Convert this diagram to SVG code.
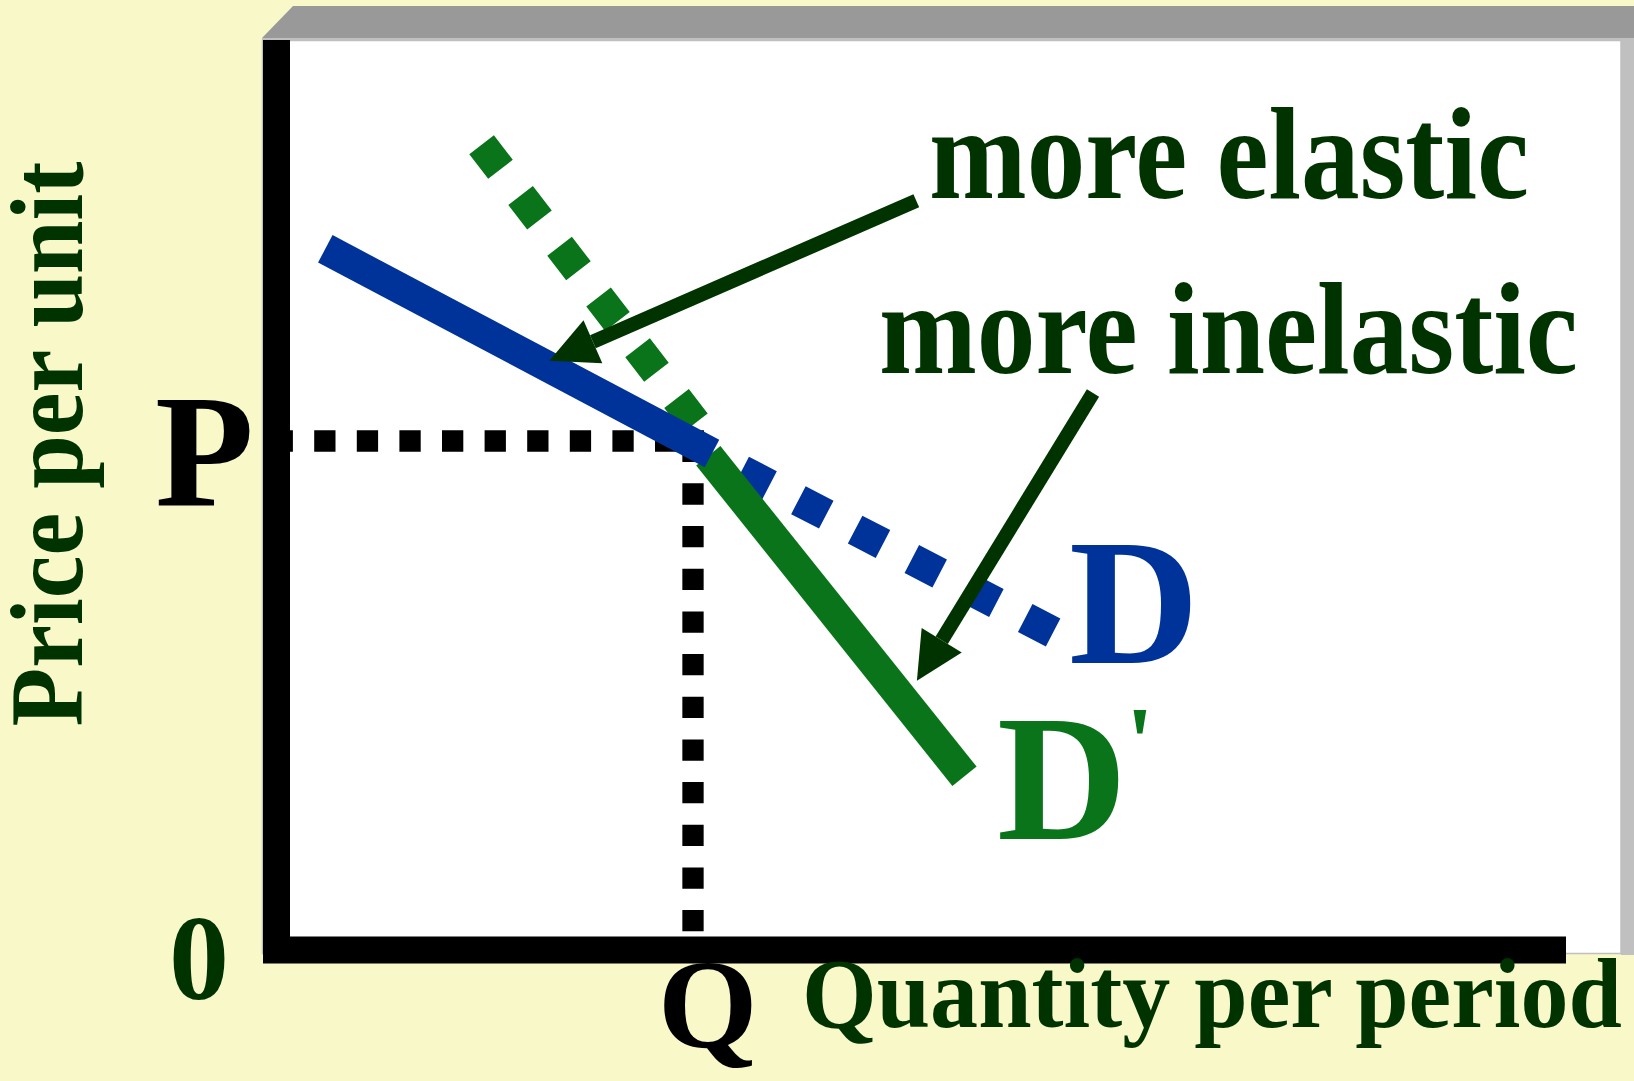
<svg xmlns="http://www.w3.org/2000/svg" width="1634" height="1081" viewBox="0 0 1634 1081">
<defs>
<style>
.lbl{font-family:"Liberation Serif","Times New Roman",serif;font-weight:bold;}
.dk{fill:#003300;}
.blk{fill:#000000;}
.blue{fill:#003399;}
.grn{fill:#0A741A;}
.conn{stroke:#003300;stroke-width:14.3;fill:none;}
</style>
<marker id="ah" markerUnits="userSpaceOnUse" viewBox="0 0 48 48" markerWidth="48" markerHeight="48" refX="0" refY="23.5" orient="auto" overflow="visible">
<path d="M0,0 L47.5,23.5 L0,47 Z" fill="#003300"/>
</marker>
</defs>
<rect x="0" y="0" width="1634" height="1081" fill="#F9F8C8"/>
<g id="frame">
<polygon points="293,6 1634,6 1634,38 262,38" fill="#999999"/>
<rect x="1621" y="38" width="13" height="917" fill="#C0C0C0"/>
<rect x="262" y="38" width="1359" height="3" fill="#C0C0C0"/>
<rect x="262.5" y="40.5" width="1358.5" height="913" fill="#FFFFFF" stroke="#BFBFBF" stroke-width="1.5"/>
</g>
<g id="guides">
<line x1="271.6" y1="441" x2="704" y2="441" stroke="#000" stroke-width="21.3" stroke-dasharray="21.3 21.3"/>
<line x1="693" y1="440.7" x2="693" y2="931.4" stroke="#000" stroke-width="21.3" stroke-dasharray="21.3 21.37"/>
</g>
<g id="axes">
<path d="M276.5,40 V950 H1566" fill="none" stroke="#000" stroke-width="27"/>
</g>
<g id="curves">
<line id="Dprime-dashed" x1="481.6" y1="144.7" x2="695.4" y2="423" stroke="#0A741A" stroke-width="31" stroke-dasharray="31 33"/>
<line id="D-dashed" x1="741.7" y1="470.7" x2="1053.2" y2="632.5" stroke="#003399" stroke-width="31.5" stroke-dasharray="31.4 32.5"/>
<line id="Dprime-solid" x1="708.3" y1="455.8" x2="964.5" y2="776.3" stroke="#0A741A" stroke-width="31"/>
<line id="D-solid" x1="325.3" y1="248.8" x2="712" y2="453.5" stroke="#003399" stroke-width="31"/>
</g>
<g id="connectors">
<line class="conn" x1="916.3" y1="200.8" x2="592.9" y2="341.7" marker-end="url(#ah)"/>
<line class="conn" x1="1093" y1="393" x2="941.7" y2="640.2" marker-end="url(#ah)"/>
</g>
<g id="label-more-elastic"><text class="lbl dk" x="929" y="198" font-size="131" textLength="600" lengthAdjust="spacingAndGlyphs">more elastic</text></g>
<g id="label-more-inelastic"><text class="lbl dk" x="879" y="372.5" font-size="131" textLength="699" lengthAdjust="spacingAndGlyphs">more inelastic</text></g>
<g id="label-D"><text class="lbl blue" x="1069" y="663" font-size="180">D</text></g>
<g id="label-Dprime"><text class="lbl grn" x="997" y="839" font-size="180">D</text><text class="lbl grn" x="1126" y="775" font-size="100">'</text></g>
<g id="label-P"><text class="lbl blk" x="155" y="505" font-size="162">P</text></g>
<g id="label-0"><text class="lbl dk" x="169" y="999" font-size="120">0</text></g>
<g id="label-Q"><text class="lbl blk" x="658" y="1047" font-size="128">Q</text></g>
<g id="label-x"><text class="lbl dk" x="802" y="1026.5" font-size="99" textLength="820" lengthAdjust="spacingAndGlyphs">Quantity per period</text></g>
<g id="label-y"><text class="lbl dk" transform="translate(81.7,726.6) rotate(-90)" x="0" y="0" font-size="103" textLength="565" lengthAdjust="spacingAndGlyphs">Price per unit</text></g>
</svg>
